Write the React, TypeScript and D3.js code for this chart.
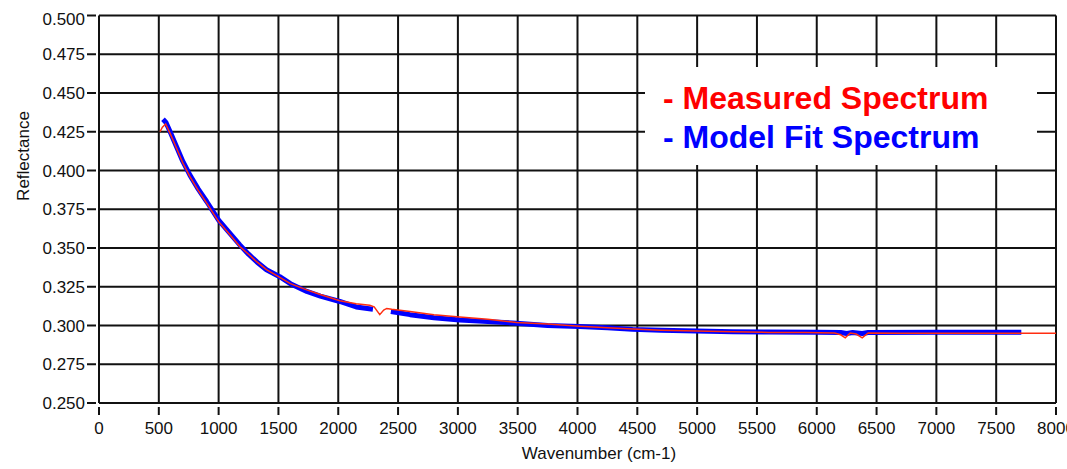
import React from "react";
import * as d3 from "d3";

// x ticks (wavenumber, cm-1) and y ticks (reflectance)
const xTicks = d3.range(0, 8001, 500);
const yTicks = d3.range(0, 11).map((i) => +(0.25 + i * 0.025).toFixed(3));

// measured spectrum (red)
const measuredWn = [
  510, 530, 557, 600, 650, 700, 760, 830, 900, 1000, 1100, 1177, 1250, 1320, 1400, 1511, 1600, 1737,
  1850, 2013, 2150, 2263, 2300, 2347, 2380, 2405, 2447, 2600, 2800, 3015, 3250, 3490, 3750, 4017,
  4250, 4460, 4700, 4994, 5300, 5600, 5900, 6150, 6200, 6238, 6280, 6330, 6380, 6430, 6700, 7000,
  7300, 7600, 8000,
];
const measuredVal = [
  0.425, 0.428, 0.43, 0.423, 0.414, 0.405, 0.396, 0.387, 0.379, 0.367, 0.358, 0.351, 0.346, 0.341,
  0.336, 0.331, 0.327, 0.323, 0.32, 0.316, 0.314, 0.313, 0.312, 0.307, 0.31, 0.311, 0.3105, 0.309,
  0.307, 0.3055, 0.304, 0.302, 0.301, 0.2995, 0.2985, 0.2978, 0.297, 0.2965, 0.296, 0.2955, 0.2955,
  0.2952, 0.294, 0.292, 0.2952, 0.2945, 0.292, 0.2952, 0.295, 0.295, 0.295, 0.295, 0.295,
];

// model fit spectrum (blue), null = gap
const modelWn = [
  535, 560, 600, 650, 700, 760, 830, 900, 1000, 1100, 1177, 1250, 1320, 1400, 1511, 1600, 1737, 1850,
  2013, 2150, 2290, 2360, 2440, 2600, 2800, 3015, 3250, 3490, 3750, 4017, 4250, 4460, 4700, 4994,
  5300, 5600, 6000, 6200, 6250, 6300, 6380, 6430, 7000, 7400, 7710,
];
const modelVal: (number | null)[] = [
  0.433, 0.431, 0.424, 0.415, 0.406, 0.397, 0.388, 0.38, 0.368, 0.359, 0.352, 0.346, 0.341, 0.336,
  0.3315, 0.327, 0.322, 0.319, 0.3155, 0.312, 0.3105, null, 0.309, 0.307, 0.305, 0.3035, 0.3025,
  0.3015, 0.3, 0.2993, 0.2985, 0.2975, 0.297, 0.2965, 0.296, 0.2958, 0.2957, 0.2955, 0.2948, 0.2955,
  0.2948, 0.2955, 0.2957, 0.2957, 0.2957,
];

const legendItems = ["- Measured Spectrum", "- Model Fit Spectrum"];
const legendColors = ["#ff0000", "#0000ff"];

const W = 1067;
const H = 469;
const plot = { left: 99, right: 1056, top: 15.5, bottom: 403 };

export default function App() {
  const x = d3.scaleLinear().domain([0, 8000]).range([plot.left, plot.right]);
  const y = d3.scaleLinear().domain([0.25, 0.5]).range([plot.bottom, plot.top]);

  const measured = measuredWn.map((w, i) => [w, measuredVal[i]] as [number, number | null]);
  const model = modelWn.map((w, i) => [w, modelVal[i]] as [number, number | null]);

  const line = d3
    .line<[number, number | null]>()
    .defined((d) => d[1] != null)
    .x((d) => x(d[0]))
    .y((d) => y(d[1] as number));

  const font = "'Liberation Sans', Arial, sans-serif";

  return (
    <svg
      width={W}
      height={H}
      style={{ position: "absolute", left: 0, top: 0, background: "#fff" }}
      fontFamily={font}
    >
      {/* grid */}
      <g stroke="#111" strokeWidth={2}>
        {xTicks.map((t) => (
          <line key={"gx" + t} x1={x(t)} x2={x(t)} y1={plot.top} y2={plot.bottom} />
        ))}
        {yTicks.map((t) => (
          <line key={"gy" + t} x1={plot.left} x2={plot.right} y1={y(t)} y2={y(t)} />
        ))}
      </g>

      {/* legend backdrop */}
      <rect x={645} y={67} width={392} height={98} fill="#fff" />

      {/* ticks */}
      <g stroke="#111" strokeWidth={2}>
        {xTicks.map((t) => (
          <line key={"tx" + t} x1={x(t)} x2={x(t)} y1={plot.bottom + 4} y2={plot.bottom + 12} />
        ))}
        {yTicks.map((t) => (
          <line key={"ty" + t} x1={plot.left - 12} x2={plot.left - 3} y1={y(t)} y2={y(t)} />
        ))}
      </g>

      {/* tick labels */}
      <g fontSize={17} fill="#111">
        {xTicks.map((t) => (
          <text key={"lx" + t} x={x(t)} y={434} textAnchor="middle">
            {t}
          </text>
        ))}
        {yTicks.map((t) => (
          <text
            key={"ly" + t}
            x={85}
            y={Math.max(y(t), 18.5) + 6}
            textAnchor="end"
          >
            {t.toFixed(3)}
          </text>
        ))}
      </g>

      {/* axis titles */}
      <text x={599} y={459} fontSize={17} textAnchor="middle" fill="#111">
        Wavenumber (cm-1)
      </text>
      <text
        transform="translate(29,156) rotate(-90)"
        fontSize={17}
        textAnchor="middle"
        fill="#111"
      >
        Reflectance
      </text>

      {/* series */}
      <path
        d={line(model) || ""}
        fill="none"
        stroke="#0000ff"
        strokeWidth={5}
        strokeLinejoin="round"
      />
      <path d={line(measured) || ""} fill="none" stroke="#ff2d10" strokeWidth={1.5} />

      {/* legend */}
      <g fontSize={32} fontWeight="bold">
        {legendItems.map((s, i) => (
          <text key={s} x={663} y={109 + i * 39} fill={legendColors[i]}>
            {s}
          </text>
        ))}
      </g>
    </svg>
  );
}
